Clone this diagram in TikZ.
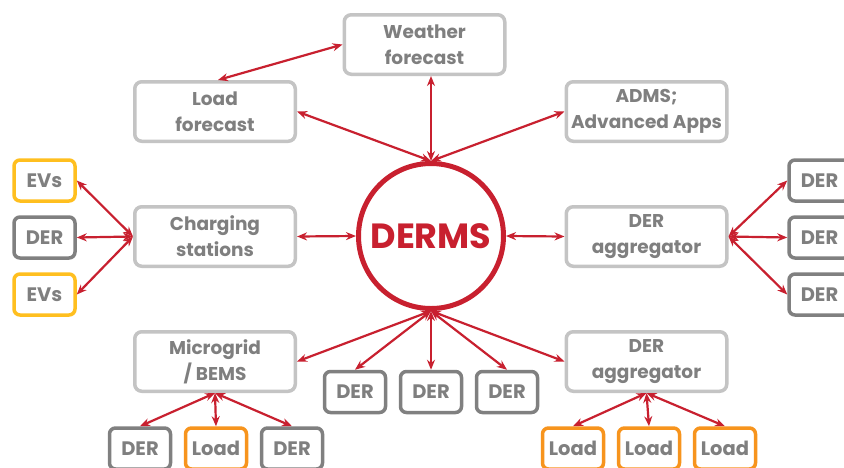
\documentclass[tikz,border=0pt]{standalone}
\usepackage{fontspec}
\setmainfont{Poppins}
\usetikzlibrary{arrows.meta}
\definecolor{lgray}{HTML}{C4C4C4}
\definecolor{dgray}{HTML}{808080}
\definecolor{tgray}{HTML}{7F7F7F}
\definecolor{evyel}{HTML}{FFBF1F}
\definecolor{ldorg}{HTML}{F7941D}
\definecolor{dred}{HTML}{C8202F}
\tikzset{
  bigbox/.style={draw=lgray, line width=3.5pt, rounded corners=7pt,
    minimum width=160.5pt, minimum height=59.5pt, align=center, inner sep=0pt,
    text=tgray, font=\bfseries\fontsize{18.5}{26}\selectfont},
  smallbox/.style={draw=dgray, line width=3.5pt, rounded corners=6pt,
    minimum width=61pt, minimum height=41pt, inner sep=0pt,
    text=tgray, font=\bfseries\fontsize{19.5}{22}\selectfont},
  evbox/.style={smallbox, draw=evyel},
  loadbox/.style={smallbox, draw=ldorg},
  link/.style={draw=dred, line width=2.2pt,
    {Stealth[length=10pt,width=8pt]}-{Stealth[length=10pt,width=8pt]}},
}
\begin{document}
\begin{tikzpicture}[x=1pt,y=-1pt]
\useasboundingbox (0,0) rectangle (844,467);
\fill[white] (0,0) rectangle (844,467);

% central hub
\node[circle, draw=dred, line width=5pt, minimum size=145pt, inner sep=0pt,
  text=dred, font=\bfseries\fontsize{35}{40}\selectfont] (derms) at (431,236) {DERMS};

% big boxes
\node[bigbox] (wf) at (424.5,44.5) {Weather\\forecast};
\node[bigbox] (lf) at (215,111.5) {Load\\forecast};
\node[bigbox] (adms) at (646.5,111.5) {ADMS;\\Advanced Apps};
\node[bigbox] (cs) at (215,236.5) {Charging\\stations};
\node[bigbox] (ag1) at (646.5,236.5) {DER\\aggregator};
\node[bigbox] (mg) at (215,361.5) {Microgrid\\/ BEMS};
\node[bigbox] (ag2) at (646.5,361.5) {DER\\aggregator};

% left small boxes
\node[evbox] (ev1) at (44.5,180.5) {EVs};
\node[smallbox] (ld) at (44.5,237.5) {DER};
\node[evbox] (ev2) at (44.5,294.5) {EVs};

% right small boxes
\node[smallbox] (rd1) at (819.5,180.5) {DER};
\node[smallbox] (rd2) at (819.5,237.5) {DER};
\node[smallbox] (rd3) at (819.5,294.5) {DER};

% middle bottom DERs
\node[smallbox] (md1) at (355,392) {DER};
\node[smallbox] (md2) at (431,392) {DER};
\node[smallbox] (md3) at (507,392) {DER};

% bottom left
\node[smallbox] (bl1) at (140,448.5) {DER};
\node[loadbox] (bl2) at (216,448.5) {Load};
\node[smallbox] (bl3) at (292,448.5) {DER};

% bottom right
\node[loadbox] (br1) at (573,448.5) {Load};
\node[loadbox] (br2) at (649,448.5) {Load};
\node[loadbox] (br3) at (725,448.5) {Load};

% connectors
\coordinate (lfn) at ([xshift=3pt]lf.north);
\coordinate (wfs) at (wf.south -| derms.north);
\draw[link] (lfn) -- (wf.west);
\draw[link] (lf.east) -- (derms.north);
\draw[link] (wfs) -- (derms.north);
\draw[link] (adms.west) -- (derms.north);
\draw[link] (cs.east) -- (derms.west);
\draw[link] (derms.east) -- (ag1.west);

\draw[link] (cs.west) -- (ev1.east);
\draw[link] (cs.west) -- (ld.east);
\draw[link] (cs.west) -- (ev2.east);

\draw[link] (ag1.east) -- (rd1.west);
\draw[link] (ag1.east) -- (rd2.west);
\draw[link] (ag1.east) -- (rd3.west);

\draw[link] (derms.south) -- (mg.east);
\draw[link] (derms.south) -- (md1.north);
\draw[link] (derms.south) -- (md2.north);
\draw[link] (derms.south) -- (md3.north);
\draw[link] (derms.south) -- (ag2.west);

\draw[link] (mg.south) -- (bl1.north);
\draw[link] (mg.south) -- (bl2.north);
\draw[link] (mg.south) -- (bl3.north);

\draw[link] (ag2.south) -- (br1.north);
\draw[link] (ag2.south) -- (br2.north);
\draw[link] (ag2.south) -- (br3.north);
\end{tikzpicture}
\end{document}
